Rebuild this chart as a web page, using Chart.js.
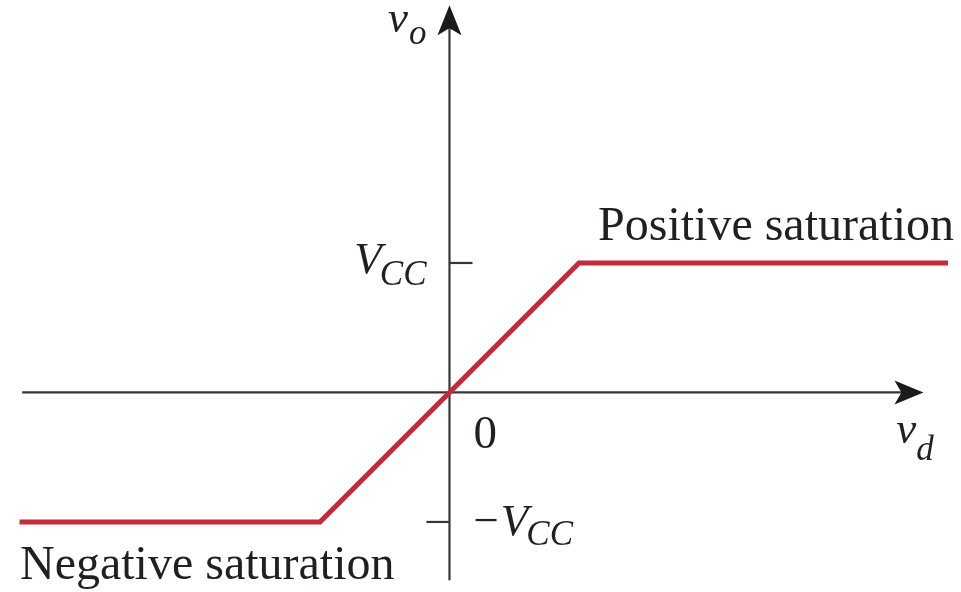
<!DOCTYPE html>
<html>
<head>
<meta charset="utf-8">
<script src="https://cdn.jsdelivr.net/npm/chart.js@4"></script>
<style>
  html, body { margin: 0; padding: 0; background: #ffffff; }
  #wrap { width: 961px; height: 592px; }
</style>
</head>
<body>
<div id="wrap"><canvas id="c" width="961" height="592"></canvas></div>
<script>
// Op-amp transfer characteristic: output v_o against differential input v_d,
// both in units of the supply V_CC.
const vdPoints = [-3.32, -1, 1, 3.85];
const voPoints = [-1, -1, 1, 1];

// Supply levels marked on the v_o axis
const levelValues = [1, -1];
const levelMain = ['V', '\u2212V'];
const levelSub = ['CC', 'CC'];

// Axis names (main letter + subscript) and region captions
const xName = ['v', 'd'];
const yName = ['v', 'o'];
const originLabel = '0';
const regionLabels = ['Positive saturation', 'Negative saturation'];

const SERIF = '"Liberation Serif", "DejaVu Serif", serif';
const INK = '#231f20';
const AXIS = '#363636';

function subText(ctx, main, sub, x, y, opts) {
  const mainFont = opts.mainFont, subFont = opts.subFont;
  ctx.font = mainFont;
  const wm = ctx.measureText(main).width;
  ctx.font = subFont;
  const ws = ctx.measureText(sub).width;
  const total = wm + opts.gap + ws;
  let left = x;
  if (opts.align === 'right') left = x - total;
  ctx.textAlign = 'left';
  ctx.textBaseline = 'alphabetic';
  ctx.fillStyle = INK;
  ctx.font = mainFont;
  ctx.fillText(main, left, y);
  ctx.font = subFont;
  ctx.fillText(sub, left + wm + opts.gap, y + opts.drop);
}

const axesPlugin = {
  id: 'arrowAxes',
  beforeDatasetsDraw(chart) {
    const ctx = chart.ctx;
    const xs = chart.scales.x, ys = chart.scales.y;
    const ox = xs.getPixelForValue(0);
    const oy = ys.getPixelForValue(0);
    const xLeft = xs.getPixelForValue(-3.30);
    const xTip = xs.getPixelForValue(3.66);
    const yBottom = ys.getPixelForValue(-1.45);
    const yTip = ys.getPixelForValue(2.99);

    ctx.save();
    ctx.strokeStyle = AXIS;
    ctx.fillStyle = '#1a1a1a';
    ctx.lineWidth = 2.2;
    ctx.lineCap = 'butt';

    // horizontal axis
    ctx.beginPath();
    ctx.moveTo(xLeft, oy);
    ctx.lineTo(xTip - 20, oy);
    ctx.stroke();
    // vertical axis
    ctx.beginPath();
    ctx.moveTo(ox, yBottom);
    ctx.lineTo(ox, yTip + 20);
    ctx.stroke();

    // arrowheads
    ctx.beginPath();
    ctx.moveTo(xTip, oy);
    ctx.lineTo(xTip - 29, oy - 12);
    ctx.lineTo(xTip - 22, oy);
    ctx.lineTo(xTip - 29, oy + 12);
    ctx.closePath();
    ctx.fill();

    ctx.beginPath();
    ctx.moveTo(ox, yTip);
    ctx.lineTo(ox + 12, yTip + 30);
    ctx.lineTo(ox, yTip + 23);
    ctx.lineTo(ox - 12, yTip + 30);
    ctx.closePath();
    ctx.fill();

    // supply-level ticks: +V_CC on the right, -V_CC on the left
    levelValues.forEach((v) => {
      const py = ys.getPixelForValue(v);
      ctx.beginPath();
      if (v > 0) { ctx.moveTo(ox, py); ctx.lineTo(ox + 23, py); }
      else { ctx.moveTo(ox - 23, py); ctx.lineTo(ox, py); }
      ctx.stroke();
    });
    ctx.restore();
  },
  afterDatasetsDraw(chart) {
    const ctx = chart.ctx;
    const xs = chart.scales.x, ys = chart.scales.y;
    const ox = xs.getPixelForValue(0);
    const oy = ys.getPixelForValue(0);
    ctx.save();

    const italicMain = 'italic 45px ' + SERIF;
    const italicSub = 'italic 35px ' + SERIF;

    // v_o next to the vertical arrow
    subText(ctx, yName[0], yName[1], ox - 23, 32,
      { mainFont: italicMain, subFont: italicSub, gap: 1, drop: 12, align: 'right' });

    // v_d under the horizontal arrow
    subText(ctx, xName[0], xName[1], xs.getPixelForValue(3.45), oy + 51,
      { mainFont: italicMain, subFont: italicSub, gap: 0, drop: 17, align: 'left' });

    // level labels
    levelValues.forEach((v, i) => {
      const py = ys.getPixelForValue(v);
      if (v > 0) {
        subText(ctx, levelMain[i], levelSub[i], ox - 23, py + 10,
          { mainFont: italicMain, subFont: italicSub, gap: -2, drop: 12, align: 'right' });
      } else {
        ctx.font = '45px ' + SERIF;
        ctx.fillStyle = INK;
        ctx.textAlign = 'left';
        ctx.textBaseline = 'alphabetic';
        const minus = levelMain[i].charAt(0);
        ctx.fillText(minus, ox + 24, py + 13);
        const mw = ctx.measureText(minus).width;
        subText(ctx, levelMain[i].slice(1), levelSub[i], ox + 26 + mw, py + 13,
          { mainFont: italicMain, subFont: italicSub, gap: -2, drop: 10, align: 'left' });
      }
    });

    // origin
    ctx.font = '47px ' + SERIF;
    ctx.fillStyle = INK;
    ctx.textAlign = 'left';
    ctx.textBaseline = 'alphabetic';
    ctx.fillText(originLabel, ox + 24, oy + 56);

    // region captions
    ctx.font = '48px ' + SERIF;
    ctx.fillText(regionLabels[0], 598, ys.getPixelForValue(1) - 23);
    ctx.fillText(regionLabels[1], 20, ys.getPixelForValue(-1) + 57);

    ctx.restore();
  }
};

new Chart(document.getElementById('c'), {
  type: 'line',
  data: {
    datasets: [{
      data: vdPoints.map((x, i) => ({ x: x, y: voPoints[i] })),
      borderColor: '#c62a3a',
      borderWidth: 5,
      borderJoinStyle: 'miter',
      borderCapStyle: 'butt',
      pointRadius: 0,
      tension: 0,
      fill: false
    }]
  },
  options: {
    responsive: false,
    animation: false,
    layout: { padding: 0 },
    plugins: { legend: { display: false }, tooltip: { enabled: false } },
    scales: {
      x: { type: 'linear', min: -3.471, max: 3.950, display: false },
      y: { type: 'linear', min: -1.541, max: 3.031, display: false }
    }
  },
  plugins: [axesPlugin]
});
</script>
</body>
</html>
